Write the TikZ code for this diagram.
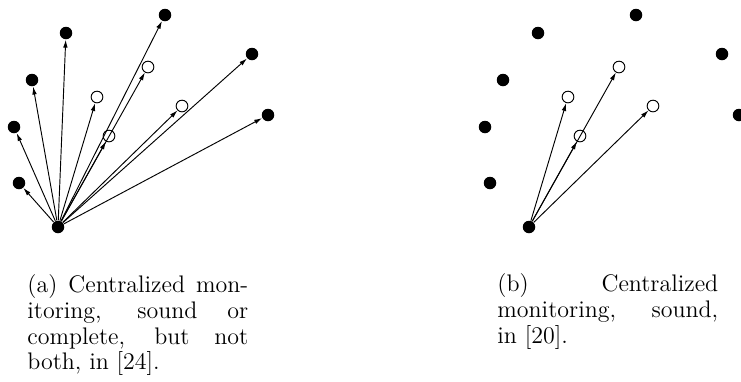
\documentclass[tikz,border=0pt]{standalone}
\usepackage{tikz}
\usetikzlibrary{arrows.meta}
\hbadness=10000
\hfuzz=2pt
\tikzset{
  dot/.style={circle, fill=black, inner sep=0pt, minimum size=6pt},
  hollow/.style={circle, draw, line width=0.45pt, inner sep=0pt, minimum size=5.6pt},
  probe/.style={-{Latex[length=3.8pt,width=2.2pt]}, line width=0.45pt},
  caption/.style={anchor=north west, inner sep=0pt, text width=106pt, align=justify,
                  font=\fontsize{11.5pt}{12.4pt}\selectfont}
}
\begin{document}
\begin{tikzpicture}[x=0.48pt, y=-0.48pt]
  \useasboundingbox (0,0) rectangle (741,381);

  % (a) every process probed
  \node[dot] (srcA) at (58,227) {};
  \foreach \n/\px/\py in {1/19/183, 2/14/127, 3/32/80, 4/66/33, 5/165/15, 6/252/54, 7/268/115}
    \node[dot] (A\n) at (\px,\py) {};
  \foreach \n/\px/\py in {1/97/97, 2/148/67, 3/182/106, 4/109/136}
    \node[hollow] (a\n) at (\px,\py) {};
  \foreach \n in {1,...,7}
    \draw[probe] (srcA) -- (A\n);
  \foreach \n in {1,...,4}
    \draw[probe] (srcA) -- (a\n);

  % (b) only the hollow ones
  \begin{scope}[shift={(471,0)}]
    \node[dot] (srcB) at (58,227) {};
    \foreach \n/\px/\py in {1/19/183, 2/14/127, 3/32/80, 4/67/33, 5/165/15, 6/251/54, 7/268/115}
      \node[dot] (B\n) at (\px,\py) {};
    \foreach \n/\px/\py in {1/97/97, 2/148/67, 3/182/106, 4/109/136}
      \node[hollow] (b\n) at (\px,\py) {};
    \foreach \n in {1,...,4}
      \draw[probe] (srcB) -- (b\n);
  \end{scope}

  \node[caption] (capA) at (27,274)
    {(a) Centralized mon-\linebreak itoring, sound or\linebreak complete, but not\linebreak both, in [24].};
  \node[caption] (capB) at (497,273)
    {(b) Centralized\linebreak monitoring, sound,\linebreak in [20].};
\end{tikzpicture}
\end{document}
